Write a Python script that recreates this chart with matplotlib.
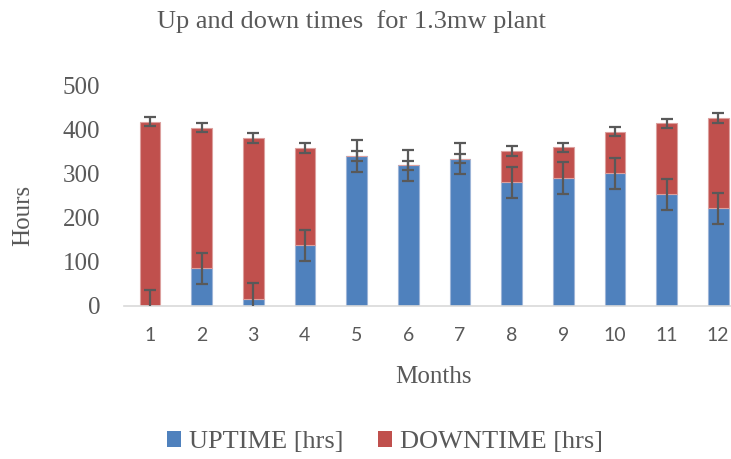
import matplotlib
matplotlib.use("Agg")
import matplotlib.pyplot as plt
from matplotlib.patches import Patch
import numpy as np

# 数据
months = ["1", "2", "3", "4", "5", "6", "7", "8", "9", "10", "11", "12"]
uptime = [0, 85, 15, 137, 340, 319, 334, 280, 290, 301, 253, 221]
downtime = [418, 319, 366, 221, 0, 0, 0, 71, 70, 94, 161, 205]
uptime_err = [35.5] * 12
downtime_err = [10.5] * 12

blue = "#4F81BD"
red = "#C0504D"
text_col = "#595959"
serif = "Liberation Serif"

fig = plt.figure(figsize=(7.31, 4.59), dpi=100)
ax = fig.add_axes([124 / 731, 1 - 305.7 / 459, 620 / 731, 220.2 / 459])

x = np.arange(len(months))
up = np.array(uptime)
down = np.array(downtime)

ax.bar(x, up, width=0.4, color=blue, edgecolor="#9DB5D8", linewidth=0.8, zorder=2)
ax.bar(x, down, width=0.4, bottom=up, color=red, edgecolor="#DCA09E", linewidth=0.8, zorder=2)

ekw = dict(fmt="none", ecolor="#595959", elinewidth=1.6, capsize=4.3, capthick=1.6, zorder=3)
ax.errorbar(x, up, yerr=uptime_err, **ekw)
ax.errorbar(x, up + down, yerr=downtime_err, **ekw)

ax.set_xlim(-0.5, len(months) - 0.5)
ax.set_ylim(0, 500)
ax.set_yticks(range(0, 501, 100))
ax.set_xticks(x)
ax.set_xticklabels(months)

for s in ["left", "right", "top"]:
    ax.spines[s].set_visible(False)
ax.spines["bottom"].set_color("#D9D9D9")
ax.spines["bottom"].set_linewidth(1.2)

ax.tick_params(axis="y", length=0, pad=17, labelsize=18, labelcolor=text_col)
ax.tick_params(axis="x", length=0, pad=15, labelsize=14, labelcolor=text_col)
for lab in ax.get_yticklabels():
    lab.set_family(serif)
for lab in ax.get_xticklabels():
    lab.set_family("Lato")

fig.text(351.5 / 731, 1 - 22 / 459, "Up and down times  for 1.3mw plant",
         ha="center", va="center", fontsize=19, family=serif, color=text_col)
fig.text(23 / 731, 1 - 215.6 / 459, "Hours", rotation=90, ha="center", va="center",
         fontsize=18, family=serif, color=text_col)
fig.text(433 / 731, 1 - 377 / 459, "Months", ha="center", va="center",
         fontsize=18, family=serif, color=text_col)

handles = [Patch(facecolor=blue, label="UPTIME [hrs]"),
           Patch(facecolor=red, label="DOWNTIME [hrs]")]
leg = fig.legend(handles=handles, loc="center", bbox_to_anchor=(385 / 731, 1 - 442 / 459),
                 ncol=2, frameon=False, handlelength=0.55, handleheight=0.55,
                 handletextpad=0.3, columnspacing=1.3,
                 prop={"family": serif, "size": 19})
for t in leg.get_texts():
    t.set_color(text_col)

fig.savefig("out.png", dpi=100)
